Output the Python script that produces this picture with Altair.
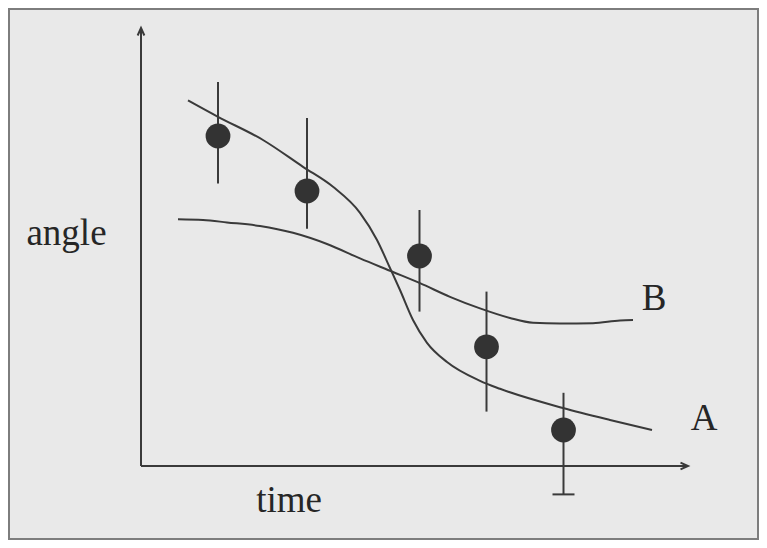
import altair as alt
import pandas as pd

# ---- data (arbitrary units) ----
pt_time = [1.54, 3.32, 5.57, 6.91, 8.45]
pt_angle = [8.25, 6.875, 5.25, 2.98, 0.90]
err_hi = [9.60, 8.70, 6.40, 4.36, 1.83]
err_lo = [7.06, 5.93, 3.86, 1.36, -0.71]

a_time = [0.94, 1.54, 2.44, 3.24, 3.84, 4.38, 4.72, 4.98, 5.18, 5.44, 5.72, 6.12, 6.78, 7.18, 8.44, 9.38, 10.22]
a_angle = [9.14, 8.73, 8.15, 7.48, 6.98, 6.33, 5.65, 4.95, 4.40, 3.65, 3.08, 2.60, 2.13, 1.93, 1.45, 1.15, 0.90]

b_time = [0.74, 1.24, 1.72, 2.38, 3.04, 3.72, 4.38, 5.04, 5.58, 6.18, 6.78, 7.38, 7.84, 8.38, 9.04, 9.58, 9.84]
b_angle = [6.17, 6.15, 6.09, 6.00, 5.83, 5.55, 5.19, 4.85, 4.57, 4.23, 3.94, 3.70, 3.58, 3.56, 3.57, 3.64, 3.65]

axis_time_end = 10.94
axis_angle_end = 10.95

labels = ["angle", "time", "A", "B"]
label_time = [-1.49, 2.96, 11.26, 10.26]
label_angle = [5.52, -1.14, 0.90, 3.90]

# ---- tables ----
pts = pd.DataFrame({"time": pt_time, "angle": pt_angle, "lo": err_lo, "hi": err_hi})
cap = pts.iloc[[4]].copy()
curve_a = pd.DataFrame({"time": a_time, "angle": a_angle})
curve_b = pd.DataFrame({"time": b_time, "angle": b_angle})
axes_df = pd.DataFrame({"t0": [0, 0], "v0": [0, 0],
                        "t1": [axis_time_end, 0], "v1": [0, axis_angle_end]})
xarrow = pd.DataFrame({"time": [axis_time_end], "angle": [0]})
yarrow = pd.DataFrame({"time": [0], "angle": [axis_angle_end]})
lab = pd.DataFrame({"text": labels, "time": label_time, "angle": label_angle})

xs = alt.Scale(domain=[-2.66, 12.36], nice=False, zero=False)
ys = alt.Scale(domain=[-1.85, 11.45], nice=False, zero=False)
X = lambda f: alt.X(f, type="quantitative", scale=xs, axis=None)
Y = lambda f: alt.Y(f, type="quantitative", scale=ys, axis=None)

INK = "#3a3a3a"

axes = alt.Chart(axes_df).mark_rule(color=INK, strokeWidth=2).encode(
    x=X("t0"), y=Y("v0"), x2="t1", y2="v1")

xa = alt.Chart(xarrow).mark_point(
    shape="M-2,-0.9L0,0L-2,0.9", size=56, filled=False, color=INK, strokeWidth=2, opacity=1
).encode(x=X("time"), y=Y("angle"))
ya = alt.Chart(yarrow).mark_point(
    shape="M-0.9,2L0,0L0.9,2", size=56, filled=False, color=INK, strokeWidth=2, opacity=1
).encode(x=X("time"), y=Y("angle"))

la = alt.Chart(curve_a).mark_line(color=INK, strokeWidth=2, interpolate="monotone").encode(
    x=X("time"), y=Y("angle"))
lb = alt.Chart(curve_b).mark_line(color=INK, strokeWidth=2, interpolate="monotone").encode(
    x=X("time"), y=Y("angle"))

err = alt.Chart(pts).mark_rule(color=INK, strokeWidth=2).encode(
    x=X("time"), y=Y("lo"), y2="hi")
capm = alt.Chart(cap).mark_tick(color=INK, thickness=2, size=22, orient="horizontal", opacity=1).encode(
    x=X("time"), y=Y("lo"))
dots = alt.Chart(pts).mark_point(shape="circle", filled=True, size=615, color="#333333", opacity=1).encode(
    x=X("time"), y=Y("angle"))

txt = alt.Chart(lab).mark_text(font="Liberation Serif", fontSize=37, color="#262626",
                               align="center", baseline="alphabetic").encode(
    x=X("time"), y=Y("angle"), text="text:N")

chart = alt.layer(axes, xa, ya, la, lb, err, capm, dots, txt).properties(
    width=751, height=532, padding=0, autosize=alt.AutoSizeParams(type="none"),
    background="#e9e9e9"
).configure_view(stroke="#7d7d7d", strokeWidth=4, fill="#e9e9e9")

chart.save("out.html", embed_options={"renderer": "svg", "actions": False})
